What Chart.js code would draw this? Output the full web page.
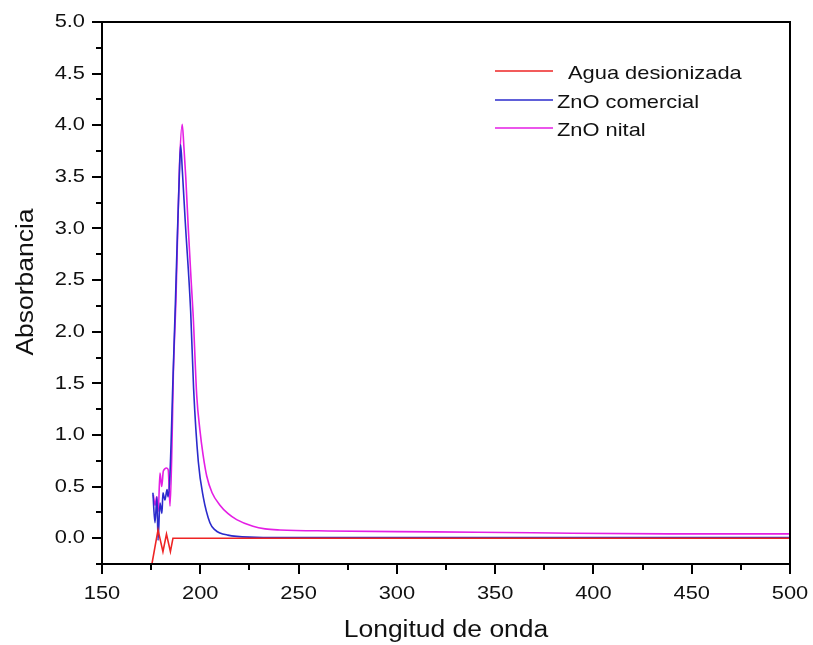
<!DOCTYPE html>
<html>
<head>
<meta charset="utf-8">
<script src="https://cdn.jsdelivr.net/npm/chart.js@4.4.1/dist/chart.umd.min.js"></script>
<style>
  html, body { margin: 0; padding: 0; background: #ffffff; }
  #wrap { width: 813px; height: 645px; }
</style>
</head>
<body>
<div id="wrap"><canvas id="c" width="813" height="645"></canvas></div>
<script>
// ---- Data ----
const seriesLabels = ["Agua desionizada", "ZnO comercial", "ZnO nital"];

const aguaWavelength = [175.4, 178.5, 181.0, 182.8, 184.8, 186.1, 300, 500];
const aguaAbs        = [-0.25, 0.08, -0.13, 0.04, -0.13, 0.0, 0.0, 0.0];

const comercialWavelength = [175.9, 176.96, 177.97, 178.5, 179.5, 180.5, 181.0, 182.0, 183.1, 183.6, 184.6,
  186.1, 187.4, 188.4, 189.3, 190.0, 190.9, 192.4, 195.1, 196.6, 199.0, 201.5, 204.9, 207.5, 210.0, 214.0,
  218.5, 225.0, 232.0, 300, 500];
const comercialAbs = [0.44, 0.15, 0.40, -0.02, 0.34, 0.24, 0.44, 0.37, 0.47, 0.40, 0.63,
  1.54, 2.32, 2.97, 3.49, 3.81, 3.55, 3.05, 2.2, 1.45, 0.74, 0.40, 0.15, 0.08, 0.05, 0.03,
  0.018, 0.01, 0.007, 0.006, 0.005];

const nitalWavelength = [176.1, 177.0, 177.8, 178.6, 179.5, 180.4, 181.2, 182.9, 183.7, 184.6, 185.6, 186.3,
  187.6, 188.5, 189.4, 190.8, 191.7, 192.6, 193.9, 195.3, 196.4, 198.2, 199.8, 201.4, 203.3, 206.0, 210.0,
  214.0, 218.5, 226.8, 233.0, 240.5, 265, 319, 369, 438, 500];
const nitalAbs = [0.42, 0.32, 0.40, 0.26, 0.63, 0.50, 0.65, 0.68, 0.66, 0.31, 0.9, 1.6,
  2.3, 2.97, 3.6, 4.01, 3.78, 3.5, 3.0, 2.51, 2.15, 1.38, 1.05, 0.81, 0.6, 0.44, 0.32,
  0.24, 0.18, 0.115, 0.09, 0.08, 0.07, 0.061, 0.052, 0.042, 0.042];

const xMajorTicks = [150, 200, 250, 300, 350, 400, 450, 500];
const xMinorTicks = [175, 225, 275, 325, 375, 425, 475];
const yMajorTicks = [0.0, 0.5, 1.0, 1.5, 2.0, 2.5, 3.0, 3.5, 4.0, 4.5, 5.0];
const yMinorTicks = [-0.25, 0.25, 0.75, 1.25, 1.75, 2.25, 2.75, 3.25, 3.75, 4.25, 4.75];

const xTitle = "Longitud de onda";
const yTitle = "Absorbancia";

// ---- helpers ----
function toPoints(xs, ys) { return xs.map((x, i) => ({ x: x, y: ys[i] })); }

const FONT = '"Liberation Sans", Arial, sans-serif';
const STRETCH = 1.15;

function stretchedText(ctx, text, x, y, size, align, baseline, rotate) {
  ctx.save();
  ctx.translate(x, y);
  if (rotate) ctx.rotate(rotate);
  ctx.scale(STRETCH, 1);
  ctx.font = size + 'px ' + FONT;
  ctx.fillStyle = '#111111';
  ctx.textAlign = align;
  ctx.textBaseline = baseline;
  ctx.fillText(text, 0, 0);
  ctx.restore();
}

const framePlugin = {
  id: 'framePlugin',
  afterDraw(chart) {
    const ctx = chart.ctx;
    const ca = chart.chartArea;
    const xs = chart.scales.x, ys = chart.scales.y;
    ctx.save();
    ctx.strokeStyle = '#000';
    ctx.lineWidth = 2;
    ctx.strokeRect(ca.left, ca.top, ca.right - ca.left, ca.bottom - ca.top);
    ctx.beginPath();
    xMajorTicks.forEach(v => { const p = Math.round(xs.getPixelForValue(v)); ctx.moveTo(p, ca.bottom); ctx.lineTo(p, ca.bottom + 10); });
    xMinorTicks.forEach(v => { const p = Math.round(xs.getPixelForValue(v)); ctx.moveTo(p, ca.bottom); ctx.lineTo(p, ca.bottom + 6); });
    yMajorTicks.forEach(v => { const p = Math.round(ys.getPixelForValue(v)); ctx.moveTo(ca.left, p); ctx.lineTo(ca.left - 10, p); });
    yMinorTicks.forEach(v => { const p = Math.round(ys.getPixelForValue(v)); ctx.moveTo(ca.left, p); ctx.lineTo(ca.left - 6, p); });
    ctx.stroke();
    ctx.restore();

    // tick labels
    xMajorTicks.forEach(v => stretchedText(ctx, String(v), xs.getPixelForValue(v), ca.bottom + 30, 19, 'center', 'middle'));
    yMajorTicks.forEach(v => stretchedText(ctx, v.toFixed(1), ca.left - 17, ys.getPixelForValue(v), 19, 'right', 'middle'));

    // axis titles
    stretchedText(ctx, xTitle, (ca.left + ca.right) / 2, 631, 23, 'center', 'middle');
    stretchedText(ctx, yTitle, 27, 282, 23, 'center', 'middle', -Math.PI / 2);

    // legend
    const lx0 = 495, lx1 = 553;
    const ly = [71, 100, 128];
    const tx = [568, 557, 557];
    chart.data.datasets.forEach((ds, i) => {
      ctx.save();
      ctx.strokeStyle = ds.borderColor;
      ctx.lineWidth = 1.5;
      ctx.beginPath();
      ctx.moveTo(lx0, ly[i]); ctx.lineTo(lx1, ly[i]);
      ctx.stroke();
      ctx.restore();
      stretchedText(ctx, ds.label, tx[i], ly[i] + 3, 19, 'left', 'middle');
    });
  }
};

new Chart(document.getElementById('c'), {
  type: 'line',
  data: {
    datasets: [
      { label: seriesLabels[0], data: toPoints(aguaWavelength, aguaAbs), borderColor: '#ee2424', borderWidth: 1.6, pointRadius: 0, tension: 0 },
      { label: seriesLabels[1], data: toPoints(comercialWavelength, comercialAbs), borderColor: '#2b2bcc', borderWidth: 1.6, pointRadius: 0, cubicInterpolationMode: 'monotone' },
      { label: seriesLabels[2], data: toPoints(nitalWavelength, nitalAbs), borderColor: '#e41ee4', borderWidth: 1.6, pointRadius: 0, cubicInterpolationMode: 'monotone' }
    ]
  },
  options: {
    responsive: false,
    animation: false,
    devicePixelRatio: 1,
    layout: { padding: { left: 0, top: 22, right: 23, bottom: 0 } },
    plugins: { legend: { display: false }, tooltip: { enabled: false } },
    scales: {
      x: {
        type: 'linear', min: 150, max: 500,
        grid: { display: false }, border: { display: false },
        ticks: { display: false },
        afterFit(scale) { scale.height = 81; }
      },
      y: {
        type: 'linear', min: -0.25, max: 5.0,
        grid: { display: false }, border: { display: false },
        ticks: { display: false },
        afterFit(scale) { scale.width = 102; }
      }
    }
  },
  plugins: [framePlugin]
});
</script>
</body>
</html>
